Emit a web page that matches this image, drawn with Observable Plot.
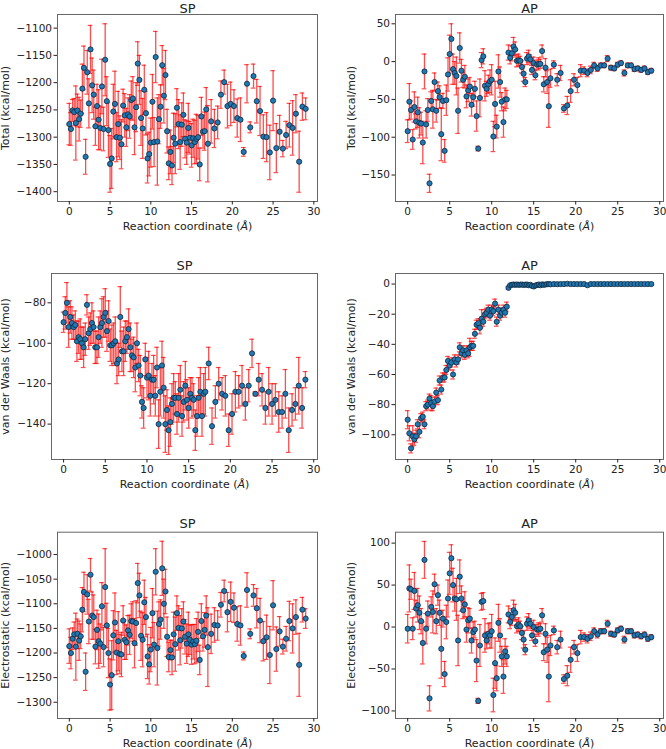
<!DOCTYPE html>
<html><head><meta charset="utf-8">
<script src="https://cdn.jsdelivr.net/npm/d3@7"></script>
<script src="https://cdn.jsdelivr.net/npm/@observablehq/plot@0.6"></script>
<style>
body{margin:0;background:#fff}
#wrap{position:relative;width:666px;height:749px;overflow:hidden;background:#fff}
#wrap svg{position:absolute}
</style></head><body><div id="wrap"></div>
<script>
// Reaction coordinate (Å)
const xs = [0,0.2,0.4,0.6,0.8,1,1.2,1.4,1.6,1.8,2,2.2,2.4,2.6,2.8,3,3.2,3.4,3.6,3.8,4,4.2,4.4,4.6,4.8,5,5.2,5.4,5.6,5.8,6,6.2,6.4,6.6,6.8,7,7.2,7.4,7.6,7.8,8,8.2,8.4,8.6,8.8,9,9.2,9.4,9.6,9.8,10,10.2,10.4,10.6,10.8,11,11.2,11.4,11.6,11.8,12,12.2,12.4,12.6,12.8,13,13.2,13.4,13.6,13.8,14,14.2,14.4,14.6,14.8,15,15.2,15.4,15.6,15.8,16,16.2,16.4,16.6,16.8,17,
  17.4,17.8,18.2,18.6,19,19.4,19.8,20.2,20.6,21,21.4,21.8,22.2,22.6,23,23.4,23.8,24.2,24.6,25,25.4,25.8,26.2,26.6,27,27.4,27.8,28.2,28.6,29];

// SP Total
const spTotal = [-1276,-1285,-1251,-1254,-1274,-1251,-1267,-1257,-1211,-1173,
  -1336,-1181,-1238,-1139,-1205,-1222,-1280,-1243,-1268,-1283,
  -1207,-1285,-1158,-1234,-1287,-1349,-1339,-1253,-1239,-1300,
  -1276,-1301,-1313,-1242,-1260,-1282,-1258,-1262,-1232,-1229,
  -1282,-1245,-1165,-1195,-1265,-1284,-1213,-1256,-1339,-1331,
  -1310,-1235,-1309,-1153,-1308,-1267,-1244,-1168,-1224,-1186,
  -1289,-1348,-1327,-1352,-1301,-1312,-1246,-1276,-1309,-1277,
  -1259,-1303,-1310,-1283,-1301,-1315,-1302,-1309,-1303,-1300,
  -1350,-1262,-1290,-1289,-1249,-1312,
  -1271,-1284,-1273,-1222,-1199,-1243,-1239,-1243,-1265,-1268,
  -1327,-1202,-1282,-1188,-1234,-1252,-1299,-1300,-1328,-1233,
  -1320,-1290,-1321,-1296,-1278,-1283,-1257,-1345,-1244,-1248];
const spTotalErr = [38,30,20,25,68,30,40,25,45,40,
  32,40,45,44,50,45,35,40,55,40,
  50,40,66,45,50,52,55,50,60,45,
  60,40,45,30,40,35,30,40,35,40,
  50,45,40,45,50,55,45,40,45,40,
  45,50,45,47,80,45,40,36,50,45,
  40,30,40,35,45,55,35,45,50,40,
  40,35,40,45,30,40,35,40,45,40,
  30,35,30,35,40,70,
  40,35,30,25,22,40,40,30,35,40,
  8,35,10,22,40,45,40,45,50,55,
  45,30,15,25,40,50,35,56,25,20];

// SP van der Waals
const spVdw = [-89.6,-85,-80,-92,-87,-90,-92,-91,-99,-97,
  -98,-100,-102,-98,-81,-95,-93,-90,-92,-102,
  -102,-97,-92,-90,-87,-85,-94,-89,-101,-101,
  -100,-99,-110,-108,-87,-104,-104,-99,-97,-93,
  -102,-106,-107,-112,-100,-111,-116,-129,-132,-108,
  -117,-116,-126,-118,-118,-126,-112,-140,-124,-111,
  -122,-140,-133,-143,-139,-130,-127,-127,-135,-127,
  -123,-136,-129,-121,-128,-132,-125,-127,-128,-143,
  -136,-127,-124,-136,-125,-124,
  -110,-141,-129,-120,-125,-126,-143,-135,-124,-124,
  -121,-130,-121,-105,-125,-118,-123,-132,-124,-130,
  -128,-134,-134,-125,-143,-133,-130,-121,-132,-118];
const spVdwErr = [5,8,10,10,8,8,6,7,10,8,
  10,8,10,8,5,8,8,10,8,8,
  8,10,8,12,10,12,10,10,8,10,
  10,12,10,8,15,10,12,10,8,10,
  12,8,10,12,10,8,10,8,10,8,
  10,12,10,8,12,10,10,12,12,12,
  15,14,10,12,12,10,12,8,10,12,
  12,10,10,12,10,10,8,10,8,10,
  10,10,12,10,10,12,
  8,9,8,8,8,10,8,10,10,8,
  10,8,8,7,1,8,8,8,12,10,
  8,10,8,12,11,8,8,14,10,4];

// SP Electrostatic
const spElec = [-1186,-1200,-1171,-1162,-1187,-1161,-1175,-1166,-1112,-1076,
  -1238,-1081,-1136,-1041,-1124,-1127,-1187,-1153,-1176,-1181,
  -1105,-1188,-1066,-1144,-1200,-1264,-1245,-1164,-1138,-1199,
  -1176,-1202,-1203,-1134,-1173,-1178,-1154,-1163,-1135,-1136,
  -1180,-1139,-1058,-1083,-1165,-1173,-1097,-1127,-1207,-1223,
  -1193,-1119,-1183,-1035,-1190,-1141,-1132,-1028,-1100,-1075,
  -1167,-1208,-1194,-1209,-1162,-1182,-1119,-1149,-1174,-1150,
  -1136,-1167,-1181,-1162,-1173,-1183,-1177,-1182,-1175,-1157,
  -1214,-1135,-1166,-1153,-1124,-1188,
  -1161,-1143,-1144,-1102,-1074,-1117,-1096,-1108,-1141,-1144,
  -1206,-1072,-1161,-1083,-1109,-1134,-1176,-1168,-1204,-1103,
  -1192,-1156,-1187,-1171,-1135,-1150,-1127,-1224,-1112,-1130];
const spElecErr = [35,32,22,25,68,30,40,25,45,40,
  38,40,45,33,48,45,35,40,55,40,
  48,40,78,45,50,52,70,50,60,45,
  60,40,45,30,40,35,30,40,35,40,
  50,45,40,45,50,55,45,40,45,40,
  45,50,45,47,75,45,40,55,50,45,
  40,30,20,35,45,55,35,45,50,40,
  40,35,40,45,30,40,35,40,45,40,
  30,35,30,35,40,80,
  40,35,30,25,22,40,40,30,35,40,
  8,35,10,22,40,45,40,45,58,50,
  45,30,15,25,40,50,35,64,25,20];

// AP Total
const apTotal = [-92,-53,-64,-103,-60,-79,-67,-81,-82,-107,
  -13,-83,-64,-161,-52,-63,-27,-65,-39,-47,
  -96,-52,-118,-51,-17,10,30,-10,-15,-19,
  -65,18,-12,-24,-20,-46,-38,-33,-57,-47,
  -36,-72,-115,-48,2,7,-32,-36,-30,-26,
  -24,-99,-56,-86,-13,-27,-53,-80,-50,-50,
  12,5,11,20,16,1,2,1,-7,-16,
  -27,4,7,3,-11,-2,-18,-4,-3,-3,
  14,-30,-8,-27,-59,-22,
  -4,-24,-15,-62,-58,-39,-24,-31,-12,-12,
  -15,-11,-5,-9,-5,-5,4,-8,-9,-4,
  -2,-15,-5,-5,-10,-9,-11,-9,-14,-12];
const apTotalErr = [15,24,12,13,20,10,20,20,15,28,
  23,18,15,12,12,25,12,15,12,15,
  35,10,15,20,22,25,20,20,15,25,
  30,20,15,10,15,15,15,12,15,12,
  10,20,3,25,10,10,20,10,12,15,
  20,20,30,15,22,20,12,20,15,12,
  10,8,10,12,10,8,8,6,8,10,
  6,8,8,6,6,8,6,6,8,6,
  8,10,12,15,28,12,
  5,8,10,5,12,15,8,10,8,5,
  5,5,4,4,3,3,4,3,3,3,
  3,4,3,3,3,3,3,3,3,3];

// AP van der Waals
const apVdw = [-90,-99,-109,-101,-103,-101,-93,-98,-89,-88,
  -93,-81,-80,-76,-79,-81,-78,-72,-77,-64,
  -70,-62,-62,-57,-51,-54,-52,-60,-50,-52,
  -50,-42,-46,-44,-47,-44,-46,-42,-41,-41,
  -33,-27,-26,-29,-23,-25,-20,-19,-17,-21,
  -17,-18,-13,-25,-17,-21,-19,-17,-19,-15,
  -2.5,-0.8,-0.5,-0.3,-0.5,-0.3,-0.5,-0.4,-0.3,-0.6,
  -0.4,-0.3,-0.8,-0.5,-1.2,-1.6,-1.0,-0.6,-0.3,-0.8,
  -0.2,-0.5,-0.3,-0.1,0,-0.2,
  0,-0.1,0,0,0.2,0,0,0,0,0,
  -0.8,0,0,0,0,0,0,0,0,0,
  0,0,0,0,0,0,0,0,0,0];
const apVdwErr = [6,5,3,7,4,4,3,4,3,3,
  3,3,3,3,5,3,3,3,3,3,
  3,3,3,3,3,3,3,3,3,3,
  3,3,3,3,3,3,3,6,3,3,
  3,3,3,4,6,3,3,3,3,3,
  3,3,3,3,3,3,3,3,3,3,
  1,0.5,0.3,0.2,0.2,0.2,0.2,0.2,0.2,0.2,
  0.2,0.2,0.3,0.2,0.3,0.3,0.2,0.2,0.2,0.2,
  0.2,0.2,0.2,0.2,0.2,0.2,
  0.1,0.1,0.1,0.1,0.1,0.1,0.1,0.1,0.1,0.1,
  0.1,0.1,0.1,0.1,0.1,0.1,0.1,0.1,0.1,0.1,
  0.1,0.1,0.1,0.1,0.1,0.1,0.1,0.1,0.1,0.1];

// AP Electrostatic
const apElec = [-2,46,45,-2,43,22,26,17,7,-19,
  80,-2,16,-85,24,18,51,7,38,17,
  -26,10,-56,6,34,64,82,50,34,33,
  -16,60,34,20,27,-3,8,10,-16,-6,
  -3,-40,-88,-22,30,31,-10,-16,-8,-10,
  -5,-81,-43,-61,5,-10,-35,-59,-29,-35,
  15,6,12,20,17,1,3,1,-7,-15,
  -27,4,8,4,-10,0,-17,-3,-3,-2,
  14,-30,-8,-27,-59,-22,
  -4,-24,-15,-62,-58,-39,-24,-31,-12,-12,
  -14,-11,-5,-9,-5,-5,4,-8,-9,-4,
  -2,-15,-5,-5,-10,-9,-11,-9,-14,-12];
const apElecErr = [17,28,12,13,22,10,20,20,15,25,
  22,18,15,15,12,25,12,15,12,15,
  35,10,15,20,22,25,16,20,15,25,
  30,20,15,10,15,15,15,12,15,12,
  10,25,3,25,10,10,20,10,12,15,
  20,20,30,15,22,20,12,20,15,12,
  10,8,10,12,10,8,8,6,8,10,
  6,8,8,6,6,8,6,6,8,6,
  8,10,12,15,30,12,
  5,8,10,5,12,15,8,10,8,5,
  5,5,4,4,3,3,4,3,3,3,
  3,4,3,3,3,3,3,3,3,3];

// Tick values
const xTicks = [0,5,10,15,20,25,30];
const spTotalTicks = [-1400,-1350,-1300,-1250,-1200,-1150,-1100];
const apTotalTicks = [-150,-100,-50,0,50];
const spVdwTicks = [-140,-120,-100,-80];
const apVdwTicks = [-100,-80,-60,-40,-20,0];
const spElecTicks = [-1300,-1250,-1200,-1150,-1100,-1050,-1000];
const apElecTicks = [-100,-50,0,50,100];

const xLabel = "Reaction coordinate (Å)";

const panels = [
  {left:0,   top:0,   mL:57, mR:16, mT:14,   mB:49, tdy:-6, yDomain:[-1418,-1075], ticks:spTotalTicks, title:"SP", ylabel:"Total (kcal/mol)", ldx:-52, values:spTotal, errors:spTotalErr},
  {left:333, top:0,   mL:62, mR:3,  mT:14,   mB:49, tdy:-6, yDomain:[-185,62.3],   ticks:apTotalTicks, title:"AP", ylabel:"Total (kcal/mol)", ldx:-44, values:apTotal, errors:apTotalErr},
  {left:0,   top:250, mL:51, mR:16, mT:23,   mB:41, tdy:-8, yDomain:[-157.5,-65.5], ticks:spVdwTicks, title:"SP", ylabel:"van der Waals (kcal/mol)", ldx:-46, values:spVdw, errors:spVdwErr},
  {left:333, top:250, mL:62, mR:3,  mT:23,   mB:41, tdy:-8, yDomain:[-116.4,7],    ticks:apVdwTicks, title:"AP", ylabel:"van der Waals (kcal/mol)", ldx:-44, values:apVdw, errors:apVdwErr},
  {left:0,   top:499, mL:57, mR:16, mT:32.7, mB:31, tdy:-8, yDomain:[-1333,-954.6], ticks:spElecTicks, title:"SP", ylabel:"Electrostatic (kcal/mol)", ldx:-52, values:spElec, errors:spElecErr},
  {left:333, top:499, mL:62, mR:3,  mT:32.7, mB:31, tdy:-8, yDomain:[-109,113],    ticks:apElecTicks, title:"AP", ylabel:"Electrostatic (kcal/mol)", ldx:-44, values:apElec, errors:apElecErr}
];

const wrap = document.getElementById("wrap");
const fmt = d3.format("d");
const barColor = "red";
const cap = 0.28;

for (const p of panels) {
  const data = xs.map((x, i) => ({x, v: p.values[i], e: p.errors[i]}));
  const svg = Plot.plot({
    width: 333, height: 250,
    marginLeft: p.mL, marginRight: p.mR, marginTop: p.mT, marginBottom: p.mB,
    style: {fontFamily: "'DejaVu Sans', sans-serif", fontSize: "10.5px", color: "#222", background: "transparent", overflow: "visible"},
    x: {domain: [-1.45, 30.45]},
    y: {domain: p.yDomain},
    marks: [
      Plot.ruleX(data, {x: "x", y1: d => d.v - d.e, y2: d => d.v + d.e, stroke: barColor, strokeOpacity: 0.7, strokeWidth: 1.3}),
      Plot.ruleY(data, {y: d => d.v - d.e, x1: d => d.x - cap, x2: d => d.x + cap, stroke: barColor, strokeOpacity: 0.7, strokeWidth: 1.2}),
      Plot.ruleY(data, {y: d => d.v + d.e, x1: d => d.x - cap, x2: d => d.x + cap, stroke: barColor, strokeOpacity: 0.7, strokeWidth: 1.2}),
      Plot.dot(data, {x: "x", y: "v", r: 2.6, fill: "#1f77b4", stroke: "#13283a", strokeWidth: 0.8}),
      Plot.frame({stroke: "#666", strokeWidth: 1}),
      Plot.axisX({ticks: xTicks, tickFormat: fmt, tickSize: 3.5, tickPadding: 2.5, label: null}),
      Plot.axisY({ticks: p.ticks, tickFormat: fmt, tickSize: 3.5, tickPadding: 2, label: null}),
      Plot.text([p.title], {text: d => d, frameAnchor: "top", lineAnchor: "middle", textAnchor: "middle", dy: p.tdy, fontSize: 13, fontWeight: "normal"}),
      Plot.text([xLabel], {text: d => d, frameAnchor: "bottom", lineAnchor: "middle", textAnchor: "middle", dy: 25, fontSize: 11, fontWeight: "normal", className: "xlab"}),
      Plot.text([p.ylabel], {text: d => d, frameAnchor: "left", lineAnchor: "middle", textAnchor: "middle", dx: p.ldx, rotate: -90, fontSize: 11, fontWeight: "normal"})
    ]
  });
  // italic Å as in the original's math-text label
  svg.querySelectorAll(".xlab text").forEach(t => {
    t.textContent = "";
    const a = document.createElementNS("http://www.w3.org/2000/svg", "tspan");
    a.textContent = "Reaction coordinate (";
    const b = document.createElementNS("http://www.w3.org/2000/svg", "tspan");
    b.textContent = "Å"; b.setAttribute("font-style", "italic");
    const c = document.createElementNS("http://www.w3.org/2000/svg", "tspan");
    c.textContent = ")";
    t.append(a, b, c);
  });
  svg.style.left = p.left + "px";
  svg.style.top = p.top + "px";
  wrap.appendChild(svg);
}
</script></body></html>
